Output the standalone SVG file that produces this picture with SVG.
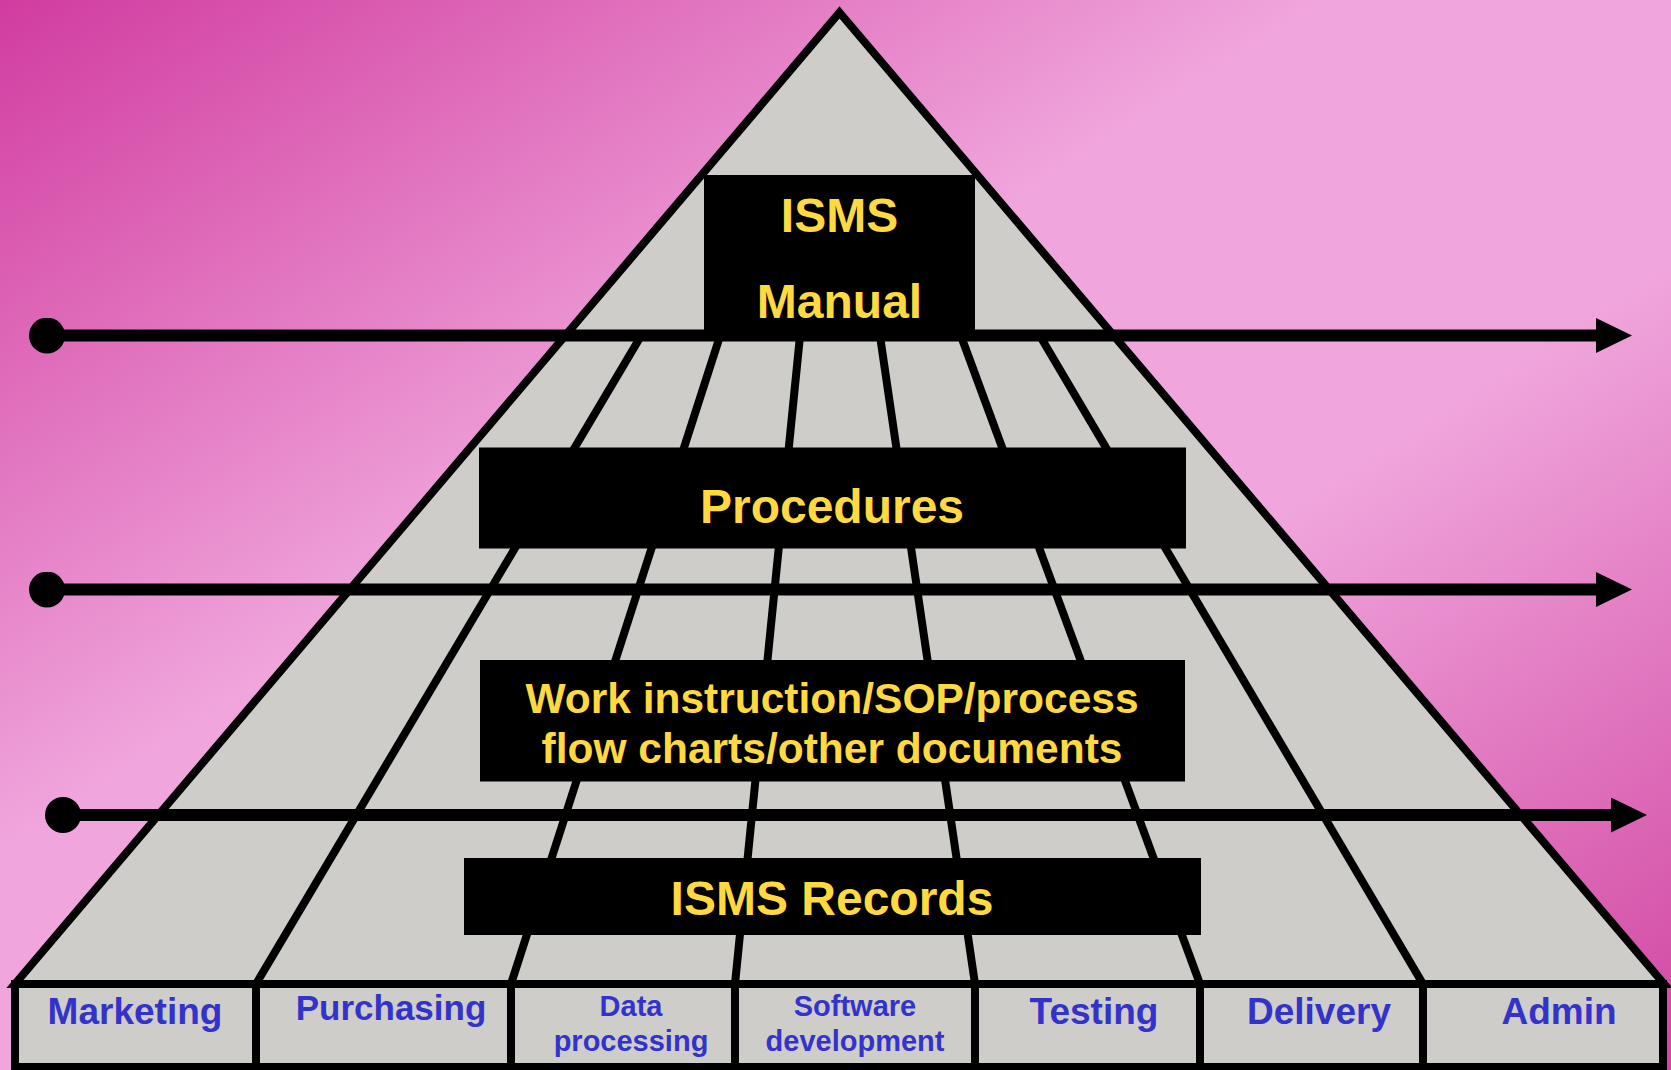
<svg xmlns="http://www.w3.org/2000/svg" width="1671" height="1070" viewBox="0 0 1671 1070">
<defs>
<linearGradient id="bg" x1="0" y1="0" x2="1" y2="1">
<stop offset="0" stop-color="#d13c9f"/>
<stop offset="0.4" stop-color="#f0a6dc"/>
<stop offset="0.62" stop-color="#f0a6dc"/>
<stop offset="1" stop-color="#d146a2"/>
</linearGradient>
<marker id="dot" viewBox="-10 -10 20 20" markerWidth="36" markerHeight="36" markerUnits="userSpaceOnUse" refX="0" refY="0" orient="auto">
<circle cx="0" cy="0" r="10" fill="#000"/>
</marker>
<marker id="head" viewBox="0 0 36 35" markerWidth="36" markerHeight="35" markerUnits="userSpaceOnUse" refX="1" refY="17.5" orient="auto">
<path d="M0,0 L36,17.5 L0,35 Z" fill="#000"/>
</marker>
<style>
.tri{fill:#cecdc9;stroke:#000;stroke-width:8;stroke-linejoin:miter}
.slice{stroke:#000;stroke-width:8;fill:none}
.box{fill:#000}
.cell{fill:#cecdc9;stroke:#000;stroke-width:8}
.arrow{stroke:#000;stroke-width:12;fill:none;marker-start:url(#dot);marker-end:url(#head)}
.ttl{font-family:"Liberation Sans",Arial,sans-serif;font-weight:bold;fill:#fed93f;text-anchor:middle}
.lbl{font-family:"Liberation Sans",Arial,sans-serif;font-weight:bold;fill:#3333cc;text-anchor:middle;font-size:37px}
.lbl.sm{font-size:29px}
.lbl.mid{font-size:35px}
</style>
</defs>
<rect x="0" y="0" width="1671" height="1070" fill="url(#bg)"/>
<g id="pyramid">
<polygon class="tri" points="839.5,12.5 1664,984 15,984"/>
</g>
<g id="slices">
<line class="slice" x1="641" y1="336" x2="256" y2="984"/>
<line class="slice" x1="720" y1="336" x2="511" y2="984"/>
<line class="slice" x1="800" y1="336" x2="735" y2="984"/>
<line class="slice" x1="880" y1="336" x2="975" y2="984"/>
<line class="slice" x1="961" y1="336" x2="1200" y2="984"/>
<line class="slice" x1="1040" y1="336" x2="1423" y2="984"/>
</g>
<g id="table">
<rect class="cell" x="15" y="984" width="1648" height="83"/>
<line class="slice" x1="256" y1="984" x2="256" y2="1067"/>
<line class="slice" x1="511" y1="984" x2="511" y2="1067"/>
<line class="slice" x1="735" y1="984" x2="735" y2="1067"/>
<line class="slice" x1="975" y1="984" x2="975" y2="1067"/>
<line class="slice" x1="1200" y1="984" x2="1200" y2="1067"/>
<line class="slice" x1="1423" y1="984" x2="1423" y2="1067"/>
</g>
<g id="col-marketing"><text class="lbl" x="135" y="1023.5">Marketing</text></g>
<g id="col-purchasing"><text class="lbl mid" x="391" y="1020">Purchasing</text></g>
<g id="col-data"><text class="lbl sm" x="631" y="1016">Data</text><text class="lbl sm" x="631" y="1051">processing</text></g>
<g id="col-software"><text class="lbl sm" x="855" y="1016">Software</text><text class="lbl sm" x="855" y="1051">development</text></g>
<g id="col-testing"><text class="lbl" x="1094" y="1023.5">Testing</text></g>
<g id="col-delivery"><text class="lbl" x="1319" y="1023.5">Delivery</text></g>
<g id="col-admin"><text class="lbl" x="1559" y="1023.5">Admin</text></g>
<g id="manual">
<rect class="box" x="704" y="175" width="271" height="160"/>
<text class="ttl" x="839.5" y="232" font-size="48">ISMS</text>
<text class="ttl" x="839.5" y="318" font-size="48">Manual</text>
</g>
<g id="procedures">
<rect class="box" x="479" y="447.5" width="707" height="101"/>
<text class="ttl" x="832" y="523" font-size="48">Procedures</text>
</g>
<g id="work">
<rect class="box" x="480" y="660" width="705" height="121.5"/>
<text class="ttl" x="832" y="713" font-size="42.5">Work instruction/SOP/process</text>
<text class="ttl" x="832" y="763" font-size="42.5">flow charts/other documents</text>
</g>
<g id="records">
<rect class="box" x="464" y="858" width="737" height="77"/>
<text class="ttl" x="832" y="915" font-size="48">ISMS Records</text>
</g>
<g id="connectors">
<line class="arrow" x1="47" y1="335.5" x2="1597" y2="335.5"/>
<line class="arrow" x1="47" y1="589.5" x2="1597" y2="589.5"/>
<line class="arrow" x1="63" y1="815" x2="1612" y2="815"/>
</g>
</svg>
